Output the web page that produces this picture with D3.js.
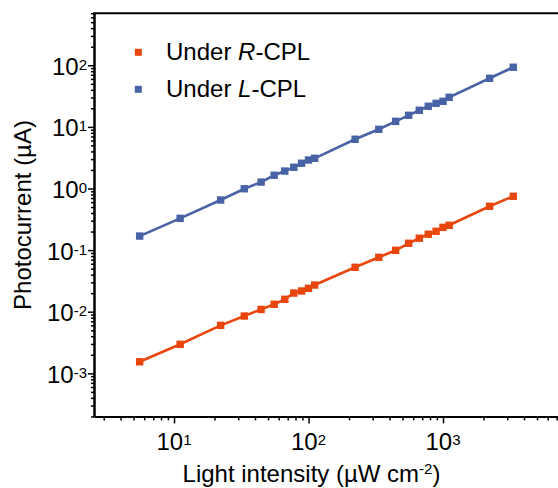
<!DOCTYPE html>
<html><head><meta charset="utf-8">
<script src="https://cdn.jsdelivr.net/npm/d3@7"></script>
<style>body{margin:0;background:#fff}svg{display:block;font-family:Arial,"Liberation Sans",sans-serif}</style>
</head><body><svg id="c" width="558" height="488"></svg>
<script>
// ---- data ----
const intensity = [5.55, 11.1, 22.2, 33.3, 44.4, 55.5, 66.6, 77.7, 88.8, 99.9, 111, 222, 333, 444, 555, 666, 777, 888, 999, 1110, 2220, 3330];
const currentR = [0.00154, 0.00296, 0.00601, 0.00851, 0.0109, 0.0132, 0.0159, 0.0201, 0.0217, 0.024, 0.0271, 0.0526, 0.0764, 0.0993, 0.129, 0.156, 0.181, 0.202, 0.234, 0.253, 0.514, 0.747];
const currentL = [0.169, 0.328, 0.65, 0.99, 1.27, 1.64, 1.92, 2.21, 2.57, 2.90, 3.09, 6.3, 9.14, 12.3, 15.4, 18.6, 21.6, 24.1, 26.0, 30.2, 61.5, 92.9];
const seriesLabels = [["Under ", "R", "-CPL"], ["Under ", "L", "-CPL"]];
const seriesColors = ["#E8460C", "#4862A6"];
const xTickExponents = [1, 2, 3];
const yTickExponents = [-3, -2, -1, 0, 1, 2];
const xTitle = ["Light intensity (µW cm", "-2", ")"];
const yTitle = "Photocurrent (µA)";

// ---- layout ----
const svg = d3.select("#c");
const L = 94, R = 564.5, T = 13.2, B = 416.4;
const x = d3.scaleLog().domain([2.54, 8000]).range([L, R]);
const y = d3.scaleLog().domain([2e-4, 700]).range([B, T]);

function minorTicks(lo, hi) {
  const out = [];
  for (let e = Math.floor(Math.log10(lo)); e <= Math.ceil(Math.log10(hi)); e++)
    for (let m = 2; m <= 9; m++) {
      const v = m * Math.pow(10, e);
      if (v >= lo && v <= hi) out.push(v);
    }
  return out;
}
const xMajor = xTickExponents.map(e => Math.pow(10, e));
const yMajor = yTickExponents.map(e => Math.pow(10, e));

// x axis
const gx = svg.append("g").attr("transform", `translate(0,${B})`);
gx.call(d3.axisBottom(x).tickValues(minorTicks(2.54, 8000)).tickSize(4).tickSizeOuter(0).tickFormat(""));
gx.append("g").call(d3.axisBottom(x).tickValues(xMajor).tickSize(7).tickSizeOuter(0).tickFormat(""));
gx.selectAll(".domain").attr("stroke", "#000").attr("stroke-width", 2);
gx.selectAll(".tick line").attr("stroke", "#000").attr("stroke-width", 1.5);

// y axis
const gy = svg.append("g").attr("transform", `translate(${L},0)`);
gy.call(d3.axisLeft(y).tickValues(minorTicks(2e-4, 700)).tickSize(3).tickSizeOuter(0).tickFormat(""));
gy.append("g").call(d3.axisLeft(y).tickValues(yMajor).tickSize(6).tickSizeOuter(0).tickFormat(""));
gy.selectAll(".domain").attr("stroke", "#000").attr("stroke-width", 2);
gy.selectAll(".tick line").attr("stroke", "#000").attr("stroke-width", 1.5);

// top frame line
svg.append("line").attr("x1", x.range()[0] - 1).attr("x2", x.range()[1]).attr("y1", y.range()[1]).attr("y2", y.range()[1])
  .attr("stroke", "#000").attr("stroke-width", 2);

// tick labels
const xl = svg.append("g").attr("font-size", 24).attr("fill", "#000");
xTickExponents.forEach(e => {
  const t = xl.append("text").attr("x", x(Math.pow(10, e))).attr("y", B + 34).attr("text-anchor", "middle");
  t.append("tspan").text("10");
  t.append("tspan").attr("font-size", 15).attr("dy", -5).text(e);
});
const yl = svg.append("g").attr("font-size", 24).attr("fill", "#000");
yTickExponents.forEach(e => {
  const t = yl.append("text").attr("x", L - 7).attr("y", y(Math.pow(10, e)) + 9.5).attr("text-anchor", "end");
  t.append("tspan").text("10");
  t.append("tspan").attr("font-size", 15).attr("dy", -5).text(e);
});

// axis titles
const xt = svg.append("text").attr("x", 311.5).attr("y", 481.5).attr("text-anchor", "middle").attr("font-size", 24);
xt.append("tspan").text(xTitle[0]);
xt.append("tspan").attr("font-size", 15).attr("dy", -8).text(xTitle[1]);
xt.append("tspan").attr("dy", 8).text(xTitle[2]);
svg.append("text").attr("transform", "translate(31,215) rotate(-90)").attr("text-anchor", "middle")
  .attr("font-size", 24).text(yTitle);

// series
const series = [currentR, currentL];
const line = d3.line().x(d => x(d[0])).y(d => y(d[1]));
series.forEach((vals, i) => {
  const pts = intensity.map((v, j) => [v, vals[j]]);
  svg.append("path").datum(pts).attr("d", line).attr("fill", "none")
    .attr("stroke", seriesColors[i]).attr("stroke-width", 2.6);
  svg.append("g").selectAll("rect").data(pts).join("rect")
    .attr("x", d => x(d[0]) - 3.7).attr("y", d => y(d[1]) - 3.7)
    .attr("width", 7.4).attr("height", 7.4).attr("fill", seriesColors[i]);
});

// legend
seriesLabels.forEach((lab, i) => {
  const cy = 52.3 + i * 37;
  svg.append("rect").attr("x", 138.3 - 3.5).attr("y", cy - 3.5).attr("width", 7).attr("height", 7).attr("fill", seriesColors[i]);
  const t = svg.append("text").attr("x", 166).attr("y", cy + 7.3).attr("font-size", 24);
  t.append("tspan").text(lab[0]);
  t.append("tspan").attr("font-style", "italic").text(lab[1]);
  t.append("tspan").text(lab[2]);
});
</script></body></html>
